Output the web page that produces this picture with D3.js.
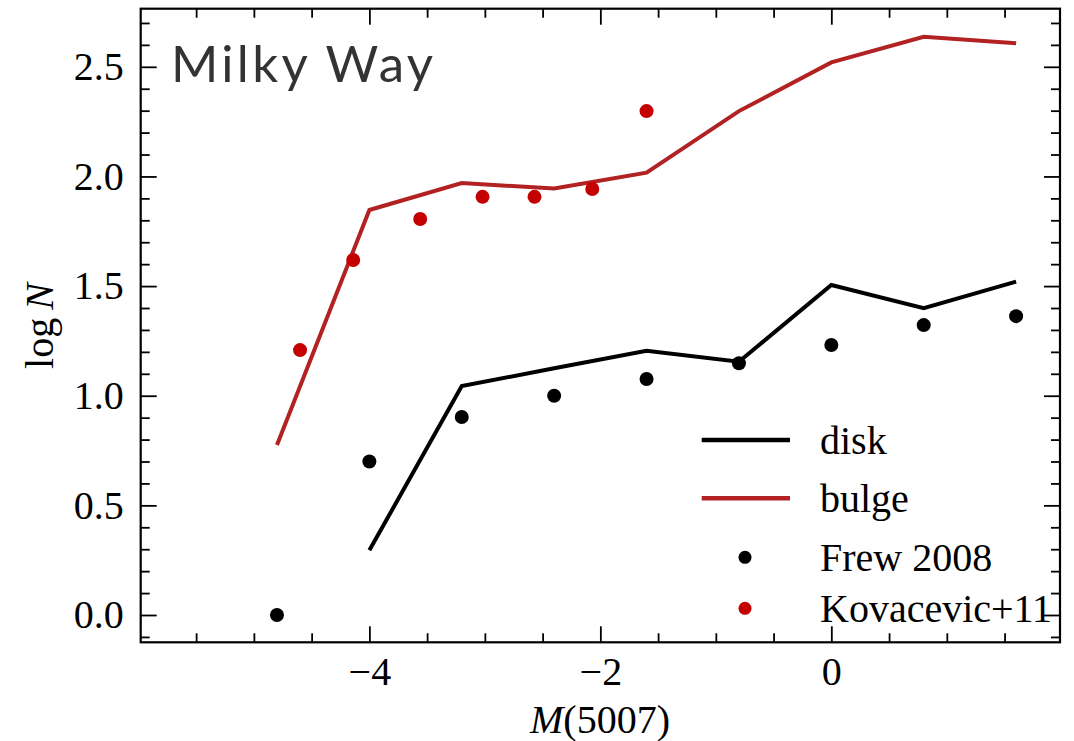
<!DOCTYPE html>
<html>
<head>
<meta charset="utf-8">
<script src="https://cdn.jsdelivr.net/npm/d3@7"></script>
<style>
  body { margin: 0; background: #fff; }
  svg { display: block; }
  .tick text { font-family: "Liberation Serif", "DejaVu Serif", serif; }
</style>
</head>
<body>
<svg id="chart"></svg>
<script>
// magnitude bins of the model curves and of Frew 2008
const magBins = [-4.8, -4.0, -3.2, -2.4, -1.6, -0.8, 0.0, 0.8, 1.6];
const diskLogN = [null, 0.295, 1.044, 1.125, 1.205, 1.155, 1.505, 1.399, 1.52];
const bulgeLogN = [0.775, 1.847, 1.97, 1.945, 2.017, 2.298, 2.52, 2.637, 2.607];
const frewLogN = [0.0, 0.70, 0.903, 1.0, 1.076, 1.148, 1.231, 1.322, 1.363];

// Kovacevic+11 points
const kovMag = [-4.6, -4.14, -3.56, -3.02, -2.57, -2.07, -1.6];
const kovLogN = [1.208, 1.619, 1.806, 1.907, 1.907, 1.943, 2.298];

const xTicks = [-4, -2, 0];
const yTicks = [0.0, 0.5, 1.0, 1.5, 2.0, 2.5];
const legendLabels = ["disk", "bulge", "Frew 2008", "Kovacevic+11"];

class LumFunction {

    constructor(_config) {
        this.config = {
            parentElement: _config.parentElement,
            containerWidth: 1074,
            containerHeight: 741,
            margin: {top: 8.7, right: 14, bottom: 98.7, left: 140.7}
        }
        this.initVis();
    }

    initVis() {
        let vis = this;
        const m = vis.config.margin;
        vis.width = vis.config.containerWidth - m.left - m.right;
        vis.height = vis.config.containerHeight - m.top - m.bottom;

        vis.xScale = d3.scaleLinear().domain([-5.98, 1.98]).range([0, vis.width]);
        vis.yScale = d3.scaleLinear().domain([-0.1245, 2.765]).range([vis.height, 0]);

        vis.svg = d3.select(vis.config.parentElement)
            .attr('width', vis.config.containerWidth)
            .attr('height', vis.config.containerHeight);

        vis.chart = vis.svg.append('g')
            .attr('transform', `translate(${m.left},${m.top})`);

        vis.renderVis();
    }

    renderVis() {
        let vis = this;
        const fmt = d => d < 0 ? '\u2212' + Math.abs(d) : d;
        const xMinor = d3.range(-5.5, 2, 0.5).filter(v => !xTicks.includes(v));
        const yMinor = d3.range(-0.1, 2.76, 0.1).map(v => +v.toFixed(1)).filter(v => !yTicks.includes(v));

        // major + minor ticks on all four sides, pointing in
        const axes = [
            {gen: d3.axisBottom, s: vis.xScale, t: `translate(0,${vis.height})`, major: xTicks, minor: xMinor, lab: true},
            {gen: d3.axisTop, s: vis.xScale, t: 'translate(0,0)', major: xTicks, minor: xMinor, lab: false},
            {gen: d3.axisLeft, s: vis.yScale, t: 'translate(0,0)', major: yTicks, minor: yMinor, lab: true},
            {gen: d3.axisRight, s: vis.yScale, t: `translate(${vis.width},0)`, major: yTicks, minor: yMinor, lab: false}
        ];
        axes.forEach(a => {
            const isY = a.gen === d3.axisLeft || a.gen === d3.axisRight;
            vis.chart.append('g')
                .attr('transform', a.t)
                .call(a.gen(a.s).tickValues(a.minor).tickSize(-9).tickFormat(''))
                .call(g => g.select('.domain').remove());
            const g = vis.chart.append('g')
                .attr('transform', a.t)
                .call(a.gen(a.s).tickValues(a.major).tickSize(-16).tickPadding(isY ? 17 : 14)
                    .tickFormat(a.lab ? (isY ? d3.format('.1f') : fmt) : ''))
                .call(g => g.select('.domain').remove());
            g.selectAll('.tick text').attr('font-size', 40).attr('fill', '#000');
        });
        vis.chart.selectAll('.tick line').attr('stroke', '#000').attr('stroke-width', 1.8);

        // frame
        vis.chart.append('rect')
            .attr('width', vis.width).attr('height', vis.height)
            .attr('fill', 'none').attr('stroke', '#000').attr('stroke-width', 2.2);

        const line = d3.line()
            .defined(d => d[1] !== null)
            .x(d => vis.xScale(d[0]))
            .y(d => vis.yScale(d[1]));

        vis.chart.append('path')
            .datum(magBins.map((x, i) => [x, bulgeLogN[i]]))
            .attr('d', line).attr('fill', 'none')
            .attr('stroke', '#b22222').attr('stroke-width', 4);

        vis.chart.append('path')
            .datum(magBins.map((x, i) => [x, diskLogN[i]]))
            .attr('d', line).attr('fill', 'none')
            .attr('stroke', '#000').attr('stroke-width', 4);

        vis.chart.selectAll('.frew')
            .data(magBins.map((x, i) => [x, frewLogN[i]]))
            .join('circle').attr('class', 'frew')
            .attr('cx', d => vis.xScale(d[0])).attr('cy', d => vis.yScale(d[1]))
            .attr('r', 7).attr('fill', '#000');

        vis.chart.selectAll('.kov')
            .data(kovMag.map((x, i) => [x, kovLogN[i]]))
            .join('circle').attr('class', 'kov')
            .attr('cx', d => vis.xScale(d[0])).attr('cy', d => vis.yScale(d[1]))
            .attr('r', 7).attr('fill', '#c40000');

        // title
        vis.svg.append('text')
            .attr('x', 171).attr('y', 81.7)
            .attr('font-family', 'Lato, sans-serif')
            .attr('font-size', 51).attr('fill', '#333')
            .attr('textLength', 262)
            .text('Milky Way');

        // axis labels
        const xl = vis.svg.append('text')
            .attr('x', 600).attr('y', 733)
            .attr('text-anchor', 'middle')
            .attr('font-family', 'Liberation Serif, serif').attr('font-size', 40);
        xl.append('tspan').attr('font-style', 'italic').text('M');
        xl.append('tspan').text('(5007)');

        const yl = vis.svg.append('text')
            .attr('transform', 'translate(53,326) rotate(-90)')
            .attr('text-anchor', 'middle')
            .attr('font-family', 'Liberation Serif, serif').attr('font-size', 40);
        yl.append('tspan').text('log\u2009');
        yl.append('tspan').attr('font-style', 'italic').text('N');

        // legend
        const legend = vis.svg.append('g');
        const rows = [
            {kind: 'line', color: '#000', y: 440, base: 454.3},
            {kind: 'line', color: '#b22222', y: 498.3, base: 512.3},
            {kind: 'dot', color: '#000', y: 557.3, base: 571.3},
            {kind: 'dot', color: '#c40000', y: 608.3, base: 622}
        ];
        rows.forEach((r, i) => {
            if (r.kind === 'line') {
                legend.append('line')
                    .attr('x1', 701.7).attr('x2', 790)
                    .attr('y1', r.y).attr('y2', r.y)
                    .attr('stroke', r.color).attr('stroke-width', 4.5);
            } else {
                legend.append('circle')
                    .attr('cx', 745).attr('cy', r.y).attr('r', 6.5).attr('fill', r.color);
            }
            legend.append('text')
                .attr('x', 820).attr('y', r.base)
                .attr('font-family', 'Liberation Serif, serif').attr('font-size', 40)
                .text(legendLabels[i]);
        });
    }
}

new LumFunction({parentElement: '#chart'});
</script>
</body>
</html>
